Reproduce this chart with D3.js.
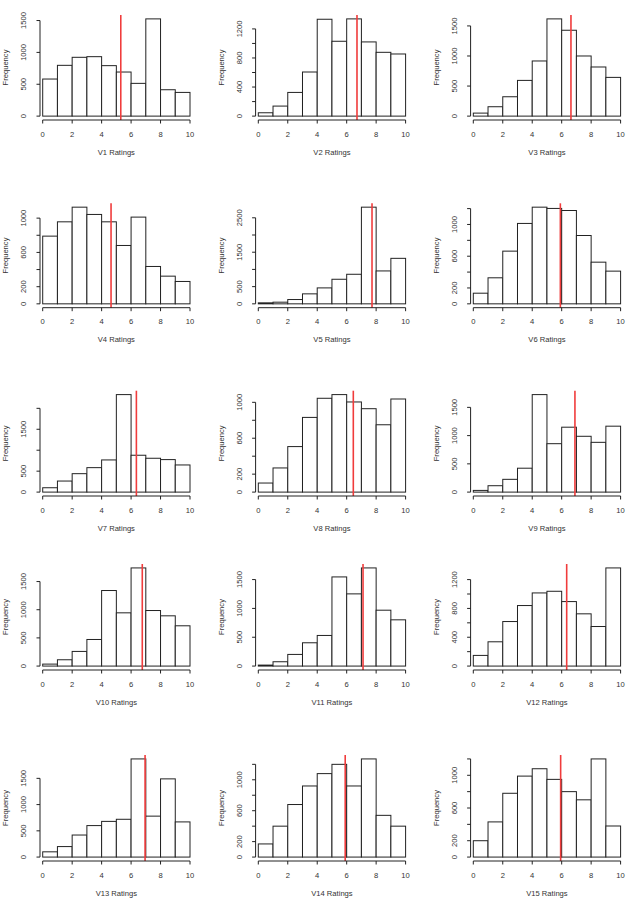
<!DOCTYPE html>
<html>
<head>
<meta charset="utf-8">
<script src="https://cdn.jsdelivr.net/npm/d3@7"></script>
<style>
  body { margin: 0; background: #fff; }
  svg text { font-family: "Liberation Sans", Arial, sans-serif; fill: #333; }
</style>
</head>
<body>
<svg id="chart" width="630" height="912"></svg>
<script>
// bins are 0-1, 1-2, ... 9-10
const binEdges = [0, 1, 2, 3, 4, 5, 6, 7, 8, 9, 10];
const xTicks = [0, 2, 4, 6, 8, 10];

const names = ["V1", "V2", "V3", "V4", "V5", "V6", "V7", "V8", "V9", "V10", "V11", "V12", "V13", "V14", "V15"];

const v1 = [582, 797, 923, 933, 792, 692, 514, 1526, 414, 372];
const v2 = [46, 138, 326, 607, 1333, 1030, 1338, 1021, 878, 855];
const v3 = [50, 156, 322, 594, 917, 1617, 1428, 1000, 817, 644];
const v4 = [790, 957, 1128, 1043, 957, 681, 1012, 436, 323, 261];
const v5 = [29, 48, 125, 290, 463, 714, 859, 2809, 956, 1322];
const v6 = [134, 328, 664, 1013, 1218, 1202, 1176, 861, 525, 412];
const v7 = [104, 264, 440, 584, 768, 2328, 880, 808, 776, 648];
const v8 = [101, 269, 507, 832, 1045, 1086, 1004, 929, 750, 1037];
const v9 = [30, 113, 226, 423, 1726, 857, 1149, 988, 881, 1167];
const v10 = [35, 112, 260, 472, 1341, 945, 1742, 986, 892, 715];
const v11 = [17, 75, 202, 404, 531, 1546, 1252, 1702, 969, 802];
const v12 = [148, 337, 618, 840, 1015, 1038, 895, 725, 549, 1362];
const v13 = [100, 200, 420, 600, 680, 720, 1870, 780, 1490, 670];
const v14 = [170, 400, 680, 920, 1080, 1200, 920, 1270, 540, 400];
const v15 = [200, 430, 780, 990, 1080, 950, 800, 700, 1200, 380];
const counts = [v1, v2, v3, v4, v5, v6, v7, v8, v9, v10, v11, v12, v13, v14, v15];

const means = [5.30, 6.70, 6.63, 4.64, 7.72, 5.91, 6.36, 6.45, 6.90, 6.76, 7.11, 6.34, 6.95, 5.90, 5.93];

const yTicks = [
  [0, 500, 1000, 1500],
  [0, 200, 400, 600, 800, 1000, 1200],
  [0, 500, 1000, 1500],
  [0, 200, 400, 600, 800, 1000],
  [0, 500, 1000, 1500, 2000, 2500],
  [0, 200, 400, 600, 800, 1000, 1200],
  [0, 500, 1000, 1500, 2000],
  [0, 200, 400, 600, 800, 1000],
  [0, 500, 1000, 1500],
  [0, 500, 1000, 1500],
  [0, 500, 1000, 1500],
  [0, 200, 400, 600, 800, 1000, 1200],
  [0, 500, 1000, 1500],
  [0, 200, 400, 600, 800, 1000, 1200],
  [0, 200, 400, 600, 800, 1000, 1200]
];
// R drops tick labels that would overlap, so only some get text
const yLabels = [
  [0, 500, 1000, 1500],
  [0, 400, 800, 1200],
  [0, 500, 1000, 1500],
  [0, 200, 600, 1000],
  [0, 500, 1500, 2500],
  [0, 200, 600, 1000],
  [0, 500, 1500],
  [0, 200, 600, 1000],
  [0, 500, 1000, 1500],
  [0, 500, 1000, 1500],
  [0, 500, 1000, 1500],
  [0, 400, 800, 1200],
  [0, 500, 1000, 1500],
  [0, 200, 600, 1000],
  [0, 200, 600, 1000]
];

// layout of the grid (plot region of each panel)
const colX0 = [42.7, 258.3, 473.3];
const plotW = 147.3;
const rowTop = [15, 203.3, 390.7, 564, 755];
const rowBottom = [120, 307.7, 496, 670, 861];
const fontSize = 7.6;
const tickLen = 3.5;

const svg = d3.select("#chart");

names.forEach((name, i) => {
  const r = Math.floor(i / 3), c = i % 3;
  const data = counts[i];
  const M = d3.max(data);
  const top = rowTop[r], bottom = rowBottom[r];

  const x = d3.scaleLinear().domain([0, 10]).range([colX0[c], colX0[c] + plotW]);
  const y = d3.scaleLinear().domain([-0.04 * M, 1.04 * M]).range([bottom, top]);
  const axisX = colX0[c] - 2.7;

  const g = svg.append("g").attr("class", "panel");

  // bars
  g.selectAll("rect.bar")
    .data(data)
    .enter().append("rect")
    .attr("class", "bar")
    .attr("x", (d, j) => x(binEdges[j]))
    .attr("width", (d, j) => x(binEdges[j + 1]) - x(binEdges[j]))
    .attr("y", d => y(d))
    .attr("height", d => y(0) - y(d))
    .attr("fill", "#fff")
    .attr("stroke", "#222")
    .attr("stroke-width", 1);

  // mean line
  g.append("line")
    .attr("x1", x(means[i])).attr("x2", x(means[i]))
    .attr("y1", top).attr("y2", bottom)
    .attr("stroke", "#f03c3c")
    .attr("stroke-width", 1.6);

  // x axis
  const xa = g.append("g").attr("class", "x-axis");
  xa.append("line")
    .attr("x1", x(xTicks[0])).attr("x2", x(xTicks[xTicks.length - 1]))
    .attr("y1", bottom).attr("y2", bottom)
    .attr("stroke", "#222");
  xa.selectAll("line.tick").data(xTicks).enter().append("line")
    .attr("class", "tick")
    .attr("x1", d => x(d)).attr("x2", d => x(d))
    .attr("y1", bottom).attr("y2", bottom + tickLen)
    .attr("stroke", "#222");
  xa.selectAll("text").data(xTicks).enter().append("text")
    .attr("x", d => x(d))
    .attr("y", bottom + 14)
    .attr("dy", "0.35em")
    .attr("text-anchor", "middle")
    .style("font-size", fontSize + "px")
    .text(d => d);

  g.append("text")
    .attr("x", (x(0) + x(10)) / 2)
    .attr("y", bottom + 32)
    .attr("dy", "0.35em")
    .attr("text-anchor", "middle")
    .style("font-size", fontSize + "px")
    .text(name + " Ratings");

  // y axis
  const ticks = yTicks[i];
  const ya = g.append("g").attr("class", "y-axis");
  ya.append("line")
    .attr("x1", axisX).attr("x2", axisX)
    .attr("y1", y(ticks[0])).attr("y2", y(ticks[ticks.length - 1]))
    .attr("stroke", "#222");
  ya.selectAll("line.tick").data(ticks).enter().append("line")
    .attr("class", "tick")
    .attr("x1", axisX - tickLen).attr("x2", axisX)
    .attr("y1", d => y(d)).attr("y2", d => y(d))
    .attr("stroke", "#222");
  ya.selectAll("text").data(yLabels[i]).enter().append("text")
    .attr("transform", d => `translate(${axisX - 16.5},${y(d)}) rotate(-90)`)
    .attr("dy", "0.35em")
    .attr("text-anchor", "middle")
    .style("font-size", fontSize + "px")
    .text(d => d);

  g.append("text")
    .attr("transform", `translate(${axisX - 34.5},${(top + bottom) / 2}) rotate(-90)`)
    .attr("dy", "0.35em")
    .attr("text-anchor", "middle")
    .style("font-size", fontSize + "px")
    .text("Frequency");
});
</script>
</body>
</html>
